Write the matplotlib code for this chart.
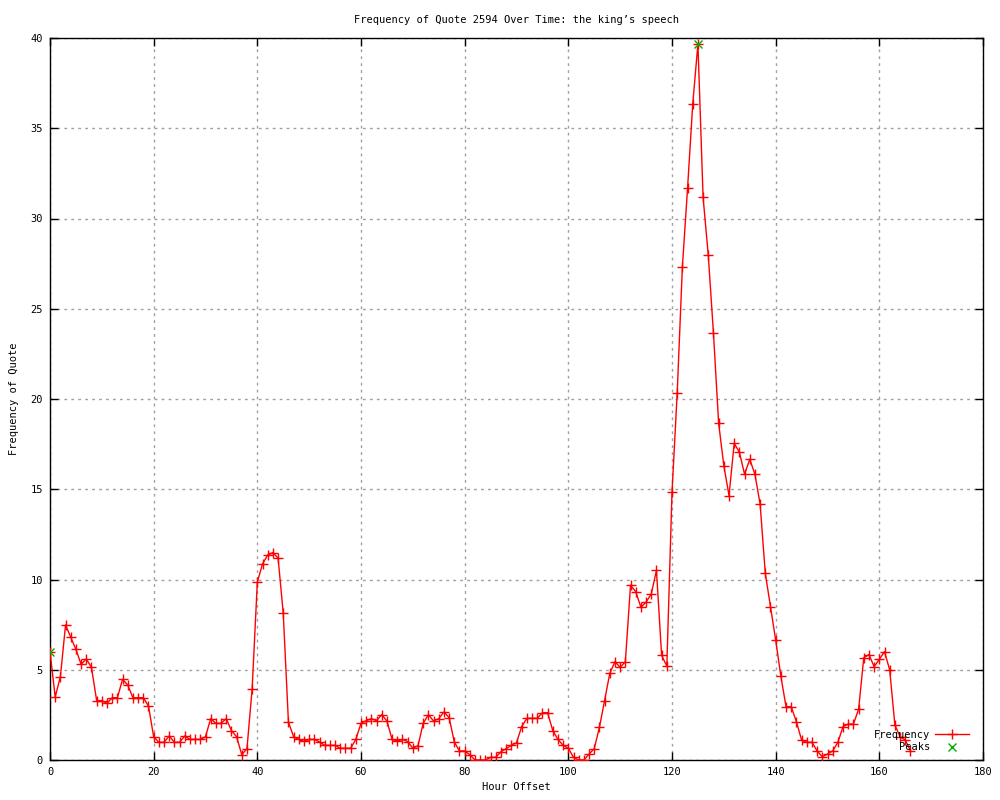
import matplotlib
matplotlib.use("Agg")
import matplotlib.pyplot as plt

hours = list(range(0, 167))
freq = [6.0, 3.5, 4.6, 7.48, 6.8, 6.13, 5.3, 5.6, 5.13, 3.29,
        3.29, 3.14, 3.45, 3.45, 4.47, 4.15, 3.45, 3.45, 3.45, 2.99,
        1.29, 0.98, 0.98, 1.33, 0.98, 0.98, 1.33, 1.14, 1.14, 1.14,
        1.29, 2.29, 2.03, 2.03, 2.29, 1.63, 1.29, 0.29, 0.63, 3.95,
        9.86, 10.86, 11.36, 11.49, 11.19, 8.13, 2.1, 1.29, 1.14, 1.03,
        1.14, 1.14, 1.0, 0.81, 0.81, 0.81, 0.65, 0.65, 0.65, 1.14,
        2.03, 2.18, 2.29, 2.18, 2.51, 2.16, 1.14, 1.05, 1.14, 1.02,
        0.65, 0.79, 2.03, 2.51, 2.16, 2.29, 2.66, 2.35, 1.0, 0.5,
        0.5, 0.29, 0.0, 0.0, 0.0, 0.15, 0.15, 0.46, 0.63, 0.81,
        0.96, 1.85, 2.31, 2.31, 2.31, 2.62, 2.62, 1.63, 1.14, 0.81,
        0.65, 0.15, 0.0, 0.0, 0.33, 0.63, 1.81, 3.29, 4.8, 5.45,
        5.13, 5.45, 9.68, 9.33, 8.46, 8.75, 9.2, 10.5, 5.8, 5.2,
        14.83, 20.31, 27.3, 31.67, 36.34, 39.67, 31.17, 27.96, 23.64, 18.65,
        16.31, 14.65, 17.54, 17.05, 15.83, 16.66, 15.83, 14.18, 10.34, 8.5,
        6.65, 4.65, 2.95, 2.95, 2.12, 1.11, 0.98, 0.98, 0.5, 0.18,
        0.33, 0.5, 0.98, 1.85, 1.99, 1.99, 2.81, 5.67, 5.84, 5.17,
        5.58, 6.0, 4.99, 1.94, 1.29, 1.11, 0.52]

peak_hours = [0, 125]
peak_values = [6.0, 39.67]

x_ticks = list(range(0, 181, 20))
y_ticks = list(range(0, 41, 5))

title = "Frequency of Quote 2594 Over Time: the king\u2019s speech"
xlabel = "Hour Offset"
ylabel = "Frequency of Quote"

plt.rcParams['font.family'] = ['DejaVu Sans Mono']
fs = 7.5

fig = plt.figure(figsize=(10, 8), dpi=100)
ax = fig.add_axes([0.05, 0.05, 0.933, 0.9025])

ax.plot(hours, freq, color='red', lw=1.0, marker='+', markersize=7,
        markeredgewidth=1.0, label='Frequency', zorder=3)
ax.plot(peak_hours, peak_values, linestyle='none', color='#00b000', marker='x',
        markersize=6, markeredgewidth=1.0, label='Peaks', zorder=4)

ax.set_xlim(0, 180)
ax.set_ylim(0, 40)
ax.set_xticks(x_ticks)
ax.set_yticks(y_ticks)
ax.tick_params(direction='in', length=6, width=1, top=True, right=True,
               labelsize=fs, pad=5)
ax.grid(True, color='#a0a0a0', linestyle=(0, (2, 3)), linewidth=1)
for s in ax.spines.values():
    s.set_linewidth(1)
    s.set_color('black')

ax.set_title(title, fontsize=fs, pad=11)
ax.set_xlabel(xlabel, fontsize=fs, labelpad=4)
ax.set_ylabel(ylabel, fontsize=fs, labelpad=8)

leg = ax.legend(loc='lower right', bbox_to_anchor=(1.0, -0.008),
                frameon=False, markerfirst=False,
                fontsize=fs, handlelength=3.3, borderaxespad=0.9,
                labelspacing=0.25, handletextpad=0.5)
for t in leg.get_texts():
    t.set_ha('right')

fig.savefig('out.png', dpi=100)
